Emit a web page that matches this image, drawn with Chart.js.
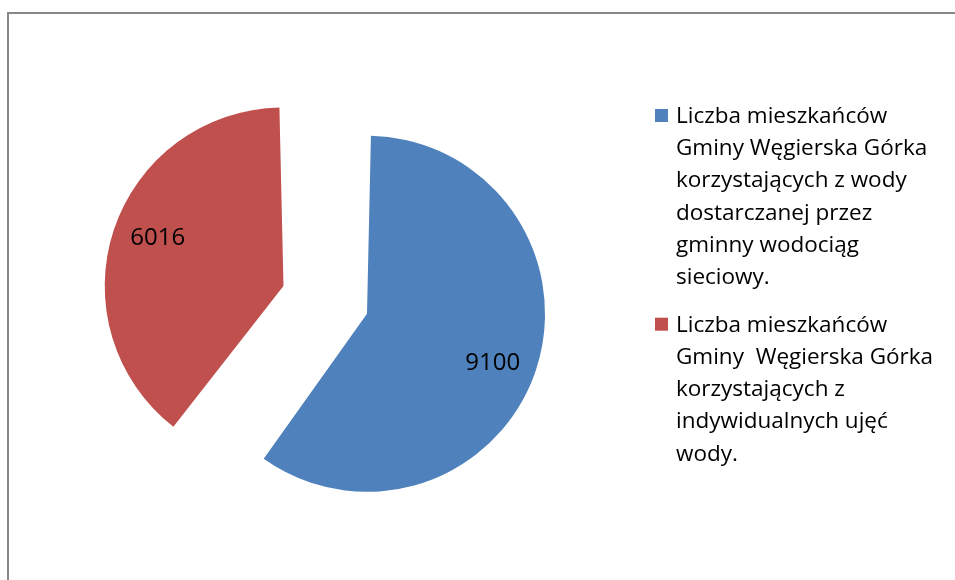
<!DOCTYPE html>
<html>
<head>
<meta charset="utf-8">
<script src="https://cdn.jsdelivr.net/npm/chart.js@4.4.1/dist/chart.umd.min.js"></script>
<style>
  html, body { margin: 0; padding: 0; background: #fff; overflow: hidden; }
  .wrap { position: relative; width: 955px; height: 580px; }
  .frame {
    position: absolute; left: 7px; top: 12px; width: 1000px; height: 700px;
    border-left: 2px solid #878787; border-top: 2px solid #878787;
  }
  canvas { position: absolute; left: 0; top: 0; }
</style>
</head>
<body>
<div class="wrap">
  <div class="frame"></div>
  <canvas id="pie" width="955" height="580"></canvas>
</div>
<script>
// legend text, wrapped the way it is in the picture
const categories = [
  ['Liczba mieszkańców', 'Gminy Węgierska Górka', 'korzystających z wody', 'dostarczanej przez', 'gminny wodociąg', 'sieciowy.'],
  ['Liczba mieszkańców', 'Gminy  Węgierska Górka', 'korzystających z', 'indywidualnych ujęć', 'wody.']
];
const residents = [9100, 6016];
const sliceColors = ['#4F81BD', '#C0504D'];

// slice values printed on the pie
const valueLabels = {
  id: 'valueLabels',
  afterDatasetsDraw(chart) {
    const ctx = chart.ctx;
    const meta = chart.getDatasetMeta(0);
    ctx.save();
    ctx.font = '24px "Open Sans"';
    ctx.fillStyle = '#000';
    ctx.textAlign = 'center';
    ctx.textBaseline = 'middle';
    meta.data.forEach((arc, i) => {
      const p = arc.getProps(['x', 'y', 'startAngle', 'endAngle', 'outerRadius'], true);
      const mid = (p.startAngle + p.endAngle) / 2;
      const off = (arc.options.offset || 0) / 4;
      const cx = p.x + Math.cos(mid) * off;
      const cy = p.y + Math.sin(mid) * off;
      const a = mid + 0.05;
      const d = p.outerRadius * 0.88;
      ctx.fillText(String(residents[i]), cx + Math.cos(a) * d, cy + Math.sin(a) * d + 1);
    });
    ctx.restore();
  }
};

// legend on the right, one box per slice, several lines of text each
const sideLegend = {
  id: 'sideLegend',
  afterDraw(chart) {
    const ctx = chart.ctx;
    const lineH = 32.2;
    let y = 123;
    ctx.save();
    ctx.font = '22.5px "Open Sans"';
    ctx.textBaseline = 'alphabetic';
    chart.data.labels.forEach((lines, i) => {
      ctx.fillStyle = chart.data.datasets[0].backgroundColor[i];
      ctx.fillRect(655, y - 14, 13, 13);
      ctx.fillStyle = '#000';
      lines.forEach((t, k) => ctx.fillText(t, 676, y + k * lineH));
      y += lines.length * lineH + 15.5;
    });
    ctx.restore();
  }
};

new Chart(document.getElementById('pie'), {
  type: 'pie',
  data: {
    labels: categories,
    datasets: [{
      data: residents,
      backgroundColor: sliceColors,
      borderWidth: 0,
      offset: [99, 253]
    }]
  },
  options: {
    responsive: false,
    animation: false,
    radius: 153.3,
    layout: { padding: { left: 10, right: 278, top: 42, bottom: 10 } },
    plugins: {
      legend: { display: false },
      tooltip: { enabled: false }
    }
  },
  plugins: [valueLabels, sideLegend]
});
</script>
</body>
</html>
